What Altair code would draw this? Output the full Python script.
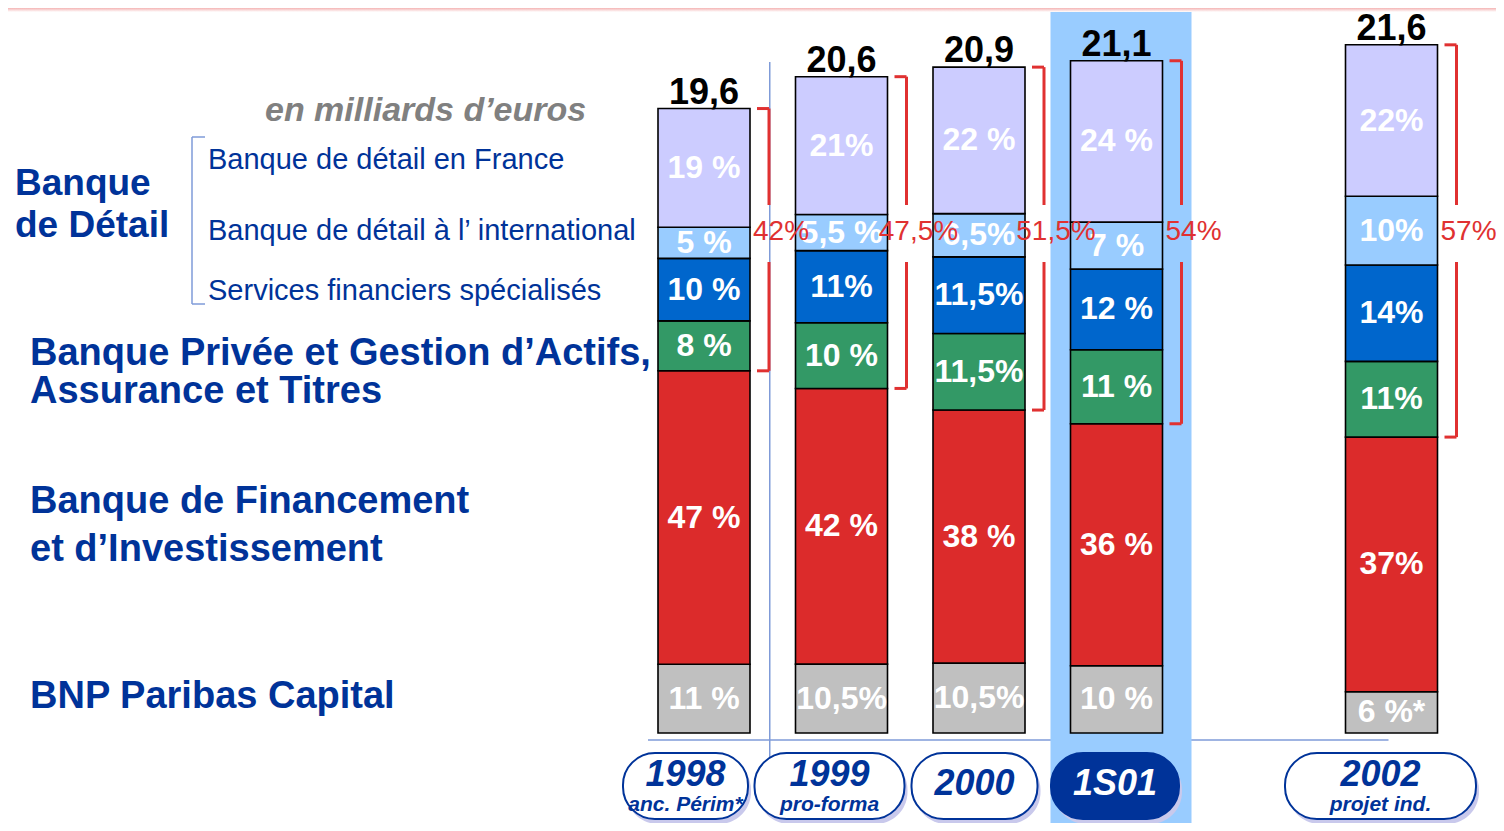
import altair as alt
import pandas as pd

# ---------------- data ----------------
periods = ["1998", "1999", "2000", "1S01", "2002"]
period_index = [0, 1, 2, 3, 5]
sub_labels = ["anc. Périm*", "pro-forma", "", "", "projet ind."]
totals = [19.6, 20.6, 20.9, 21.1, 21.6]
total_labels = ["19,6", "20,6", "20,9", "21,1", "21,6"]

# bottom to top
segments = ["BNP Paribas Capital", "BFI", "BPGA", "SFS", "International", "France"]
shares = {
    "BNP Paribas Capital": [11, 10.5, 10.5, 10, 6],
    "BFI": [47, 42, 38, 36, 37],
    "BPGA": [8, 10, 11.5, 11, 11],
    "SFS": [10, 11, 11.5, 12, 14],
    "International": [5, 5.5, 6.5, 7, 10],
    "France": [19, 21, 22, 24, 22],
}
share_labels = {
    "BNP Paribas Capital": ["11 %", "10,5%", "10,5%", "10 %", "6 %*"],
    "BFI": ["47 %", "42 %", "38 %", "36 %", "37%"],
    "BPGA": ["8 %", "10 %", "11,5%", "11 %", "11%"],
    "SFS": ["10 %", "11%", "11,5%", "12 %", "14%"],
    "International": ["5 %", "5,5 %", "6,5%", "7 %", "10%"],
    "France": ["19 %", "21%", "22 %", "24 %", "22%"],
}
bracket_labels = ["42%", "47,5%", "51,5%", "54%", "57%"]

# ---------------- styling / layout ----------------
colors = ["#C0C0C0", "#DC2B2B", "#339966", "#0066CC", "#99CCFF", "#CCCCFF"]
NAVY = "#003399"
RED = "#E03131"
LINE = "#7F9BD8"
BOLD = "Liberation Sans, Arial, sans-serif"
REG = "Liberation Sans, Arial, sans-serif"

W, H = 1488, 815
STEP = 137.5          # px between bar centres
X0 = 696              # px of first bar centre
K = 31.86             # px per billion euros
BASE = 725            # px of the zero line
HALF = 46             # half bar width in px

def u(px):
    return px / STEP

xs = alt.Scale(domain=[-X0 / STEP, (W - X0) / STEP], nice=False, zero=False)
ys = alt.Scale(domain=[-(H - BASE) / K, BASE / K], nice=False, zero=False)

# pill (category label) geometry: centre offset from bar centre, width (px)
PILL = {"1998": (-18.5, 125), "1999": (-12, 150), "2000": (-4.5, 126),
        "1S01": (-1.5, 128), "2002": (-11, 191)}

rows = []
for j, p in enumerate(periods):
    cum = 0.0
    for s in segments:
        v = totals[j] * shares[s][j] / 100
        rows.append(dict(period=p, idx=period_index[j], segment=s,
                         label=share_labels[s][j], y0=cum, y1=cum + v,
                         ym=cum + v / 2,
                         x0=period_index[j] - u(HALF), x1=period_index[j] + u(HALF)))
        cum += v
bars = pd.DataFrame(rows)

prow = []
for j, p in enumerate(periods):
    i = period_index[j]
    base = totals[j] * (shares["BNP Paribas Capital"][j] + shares["BFI"][j]) / 100
    off, pw = PILL[p]
    prow.append(dict(period=p, idx=i, total=totals[j], tlabel=total_labels[j],
                     blabel=bracket_labels[j], base=base, sub=sub_labels[j],
                     br_x=i + u(HALF + 19), tick_x=i + u(HALF + 7),
                     red_x=i + u(HALF + 31),
                     px0=i + u(off - pw / 2), px1=i + u(off + pw / 2),
                     pcx=i + u(off)))
per = pd.DataFrame(prow)

hl = per[per.period == "1S01"].assign(h0=lambda d: d.idx + u(-66), h1=lambda d: d.idx + u(75))
lines = pd.DataFrame({"a": [period_index[0] + u(-56)], "b": [period_index[-1] + u(-3)],
                      "v": [(period_index[0] + period_index[1]) / 2 - u(3)]})

X = lambda f: alt.X(f, scale=xs, axis=None)
Y = lambda f: alt.Y(f, scale=ys, axis=None)

# thin blue guide lines
hline = alt.Chart(lines).mark_rule(color=LINE, strokeWidth=1.5).encode(
    x=X("a:Q"), x2="b:Q", y=alt.value(732))
vline = alt.Chart(lines).mark_rule(color=LINE, strokeWidth=1.5).encode(
    x=X("v:Q"), y=alt.value(54), y2=alt.value(749))

highlight = alt.Chart(hl).mark_rect(color="#99CCFF").encode(
    x=X("h0:Q"), x2="h1:Q", y=alt.value(0), y2=alt.value(H))

top_band = alt.Chart(lines).mark_rect(
    color=alt.Gradient(gradient="linear",
                       stops=[alt.GradientStop(color="#F4B4B4", offset=0),
                              alt.GradientStop(color="#FFFFFF", offset=1)],
                       x1=0, x2=0, y1=0, y2=1)).encode(
    x=alt.value(0), x2=alt.value(W), y=alt.value(0), y2=alt.value(4))

bar = alt.Chart(bars).mark_bar(stroke="black", strokeWidth=1.6).encode(
    x=X("x0:Q"), x2="x1:Q", y=Y("y1:Q"), y2="y0:Q",
    color=alt.Color("segment:N", scale=alt.Scale(domain=segments, range=colors), legend=None))

seg_text = alt.Chart(bars).mark_text(font=BOLD, fontWeight="bold", fontSize=32,
                                     color="white", baseline="middle").encode(
    x=X("idx:Q"), y=Y("ym:Q"), text="label:N")

tot_text = alt.Chart(per).mark_text(font=BOLD, fontWeight="bold", fontSize=36,
                                    color="black", baseline="alphabetic", dy=-5).encode(
    x=X("idx:Q"), y=Y("total:Q"), text="tlabel:N")

rule_kw = dict(color=RED, strokeWidth=3)
br_up = alt.Chart(per).mark_rule(**rule_kw).encode(x=X("br_x:Q"), y=Y("total:Q"), y2=alt.value(197))
br_lo = alt.Chart(per).mark_rule(**rule_kw).encode(x=X("br_x:Q"), y=Y("base:Q"), y2=alt.value(254))
br_t = alt.Chart(per).mark_rule(**rule_kw).encode(x=X("tick_x:Q"), x2="br_x:Q", y=Y("total:Q"))
br_b = alt.Chart(per).mark_rule(**rule_kw).encode(x=X("tick_x:Q"), x2="br_x:Q", y=Y("base:Q"))
br_text = alt.Chart(per).mark_text(font=REG, fontSize=28, color=RED,
                                   baseline="middle").encode(
    x=X("red_x:Q"), y=alt.value(224), text="blabel:N")

is_hl = alt.datum.period == "1S01"
shadow = alt.Chart(per).mark_rect(cornerRadius=32, color="#C9C9EC",
                                  xOffset=3, x2Offset=3, yOffset=5, y2Offset=5).encode(
    x=X("px0:Q"), x2="px1:Q", y=alt.value(745), y2=alt.value(811))
pill = alt.Chart(per).mark_rect(cornerRadius=32, stroke=NAVY, strokeWidth=2).encode(
    x=X("px0:Q"), x2="px1:Q", y=alt.value(745), y2=alt.value(811),
    fill=alt.condition(is_hl, alt.value(NAVY), alt.value("white")))
year_kw = dict(font=BOLD, fontWeight="bold", fontStyle="italic", fontSize=36, baseline="middle")
year2 = alt.Chart(per).transform_filter(alt.datum.sub != "").mark_text(**year_kw).encode(
    x=X("pcx:Q"), y=alt.value(767), text="period:N",
    color=alt.condition(is_hl, alt.value("white"), alt.value(NAVY)))
year1 = alt.Chart(per).transform_filter(alt.datum.sub == "").mark_text(**year_kw).encode(
    x=X("pcx:Q"), y=alt.value(776), text="period:N",
    color=alt.condition(is_hl, alt.value("white"), alt.value(NAVY)))
subt = alt.Chart(per).transform_filter(alt.datum.sub != "").mark_text(
    font=BOLD, fontWeight="bold", fontStyle="italic", fontSize=21, baseline="middle",
    color=NAVY).encode(x=X("pcx:Q"), y=alt.value(797), text="sub:N")

one = pd.DataFrame({"k": [0]})

def label(text, x, y, size=38, font=BOLD, weight="bold", color=NAVY, style="normal"):
    return alt.Chart(one).mark_text(text=text, font=font, fontWeight=weight, fontSize=size,
                                    color=color, fontStyle=style, align="left",
                                    baseline="middle").encode(x=alt.value(x), y=alt.value(y))

left = [
    label("en milliards d\u2019euros", 257, 103, size=34, color="#808080", style="italic"),
    label("Banque", 7, 176, size=37),
    label("de  Détail", 7, 218, size=37),
    label("Banque de détail en France", 200, 152, size=29, font=REG, weight="normal"),
    label("Banque de détail à l\u2019 international", 200, 223, size=29, font=REG, weight="normal"),
    label("Services financiers spécialisés", 200, 283, size=29, font=REG, weight="normal"),
    label("Banque Privée et Gestion d\u2019Actifs,", 22, 346),
    label("Assurance et Titres", 22, 384),
    label("Banque de Financement", 22, 494),
    label("et d\u2019Investissement", 22, 542),
    label("BNP Paribas Capital", 22, 689),
]
lb = pd.DataFrame({"x": [0]})
lbr_v = alt.Chart(lb).mark_rule(color=LINE, strokeWidth=1.5).encode(
    x=alt.value(184), y=alt.value(129), y2=alt.value(296))
lbr_t = alt.Chart(lb).mark_rule(color=LINE, strokeWidth=1.5).encode(
    x=alt.value(184), x2=alt.value(197), y=alt.value(129))
lbr_b = alt.Chart(lb).mark_rule(color=LINE, strokeWidth=1.5).encode(
    x=alt.value(184), x2=alt.value(197), y=alt.value(296))

chart = alt.layer(
    hline, vline, highlight, top_band, bar, seg_text, tot_text,
    br_up, br_lo, br_t, br_b, br_text,
    shadow, pill, year2, year1, subt,
    lbr_v, lbr_t, lbr_b, *left
).properties(
    width=W, height=H, padding=0,
    autosize=alt.AutoSizeParams(type="none"),
).configure_view(stroke=None)

chart.save("out.html", embed_options={"renderer": "svg", "actions": False})
